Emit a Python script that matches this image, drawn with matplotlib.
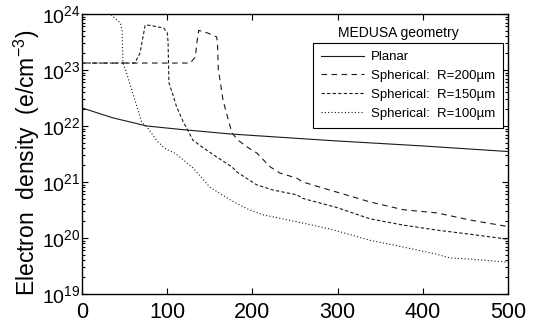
import matplotlib
matplotlib.use("Agg")
import matplotlib.pyplot as plt
import numpy as np

plt.rcParams['font.family'] = ['Liberation Sans', 'DejaVu Sans']
plt.rcParams['mathtext.fontset'] = 'custom'
plt.rcParams['mathtext.rm'] = 'Liberation Sans'
plt.rcParams['mathtext.it'] = 'Liberation Sans:italic'

# distance (x) and electron density
planar_x = [0, 36, 76, 115, 174, 291, 400, 500]
planar_n = [2.1e22, 1.4e22, 1.0e22, 8.7e21, 7.2e21, 5.5e21, 4.4e21, 3.5e21]

r200_x = [0, 127, 133, 135, 137, 147, 158, 159, 160, 162, 165.5, 170, 176, 183,
          194, 205, 221, 232, 252, 259, 299, 338, 377, 417, 455, 500]
r200_n = [1.33e23, 1.33e23, 1.7e23, 3.2e23, 5.1e23, 4.6e23, 3.9e23, 3.0e23, 1.0e23,
          6.6e22, 2.9e22, 1.6e22, 7.5e21, 5.6e21, 4.2e21, 3.3e21, 1.86e21, 1.45e21,
          1.17e21, 1.0e21, 6.6e20, 4.4e20, 3.2e20, 2.8e20, 2.1e20, 1.6e20]

r150_x = [0, 62, 68, 73, 74, 79, 96, 100, 101, 102, 106, 111, 119, 124, 130, 142,
          158, 176, 182, 205, 224, 252, 259, 299, 338, 377, 417, 455, 500]
r150_n = [1.33e23, 1.33e23, 2.0e23, 5.1e23, 6.3e23, 6.3e23, 5.6e23, 4.6e23, 3.2e23,
          5.9e22, 3.9e22, 2.2e22, 1.17e22, 8.5e21, 5.6e21, 4.1e21, 2.8e21, 1.86e21,
          1.5e21, 8.9e20, 7.2e20, 5.9e20, 5.1e20, 3.5e20, 2.2e20, 1.7e20, 1.38e20,
          1.17e20, 9.5e19]

r100_x = [0, 33, 45, 47, 48, 53, 59, 65, 70, 78, 88, 97, 110, 130, 150, 174, 194,
          212, 252, 291, 338, 377, 417, 432, 455, 500]
r100_n = [4.5e24, 1.0e24, 6.9e23, 5.1e23, 1.35e23, 8.1e22, 4.1e22, 2.1e22, 1.17e22,
          8.9e21, 5.4e21, 4.0e21, 3.2e21, 1.8e21, 8.1e20, 4.8e20, 3.3e20, 2.6e20,
          1.95e20, 1.45e20, 9.1e19, 6.9e19, 5.1e19, 4.4e19, 4.2e19, 3.7e19]

x_ticks = [0, 100, 200, 300, 400, 500]

fig = plt.figure(figsize=(5.41, 3.25), dpi=100)
ax = fig.add_axes([0.1516, 0.0954, 0.7874, 0.8616])

lw = 0.8
ax.plot(planar_x, planar_n, color='#1a1a1a', lw=lw, ls='-', label='Planar')
ax.plot(r200_x, r200_n, color='#1a1a1a', lw=lw, ls=(0, (5, 4)), label='Spherical:  R=200\u00b5m')
ax.plot(r150_x, r150_n, color='#1a1a1a', lw=lw, ls=(0, (3, 2)), label='Spherical:  R=150\u00b5m')
ax.plot(r100_x, r100_n, color='#1a1a1a', lw=lw, ls=(0, (1, 2)), label='Spherical:  R=100\u00b5m')

ax.set_yscale('log')
ax.set_xlim(0, 500)
ax.set_ylim(1e19, 1e24)
ax.set_xticks(x_ticks)
ax.xaxis.set_minor_locator(matplotlib.ticker.NullLocator())

ax.tick_params(which='both', direction='in', top=True, right=True, width=0.8)
ax.tick_params(which='major', length=4.5, labelsize=14)
ax.tick_params(which='minor', length=2)
ax.tick_params(axis='x', which='major', labelsize=15.5, pad=6)
ax.tick_params(axis='y', which='major', pad=1)
for s in ax.spines.values():
    s.set_linewidth(1.0)

ax.set_ylabel('Electron  density  (e/cm$^{-3}$)', fontsize=16.5)
ax.yaxis.set_label_coords(-0.095, 0.47)

leg = ax.legend(loc='upper right', bbox_to_anchor=(0.988, 0.896), borderaxespad=0,
                fontsize=9.5, handlelength=3.3, labelspacing=0.5, fancybox=False,
                framealpha=1, edgecolor='black', borderpad=0.6, handletextpad=0.5)
leg.get_frame().set_linewidth(0.8)
ax.text(0.742, 0.932, 'MEDUSA geometry', transform=ax.transAxes,
        ha='center', va='center', fontsize=10)

fig.savefig('out.png', dpi=100)
